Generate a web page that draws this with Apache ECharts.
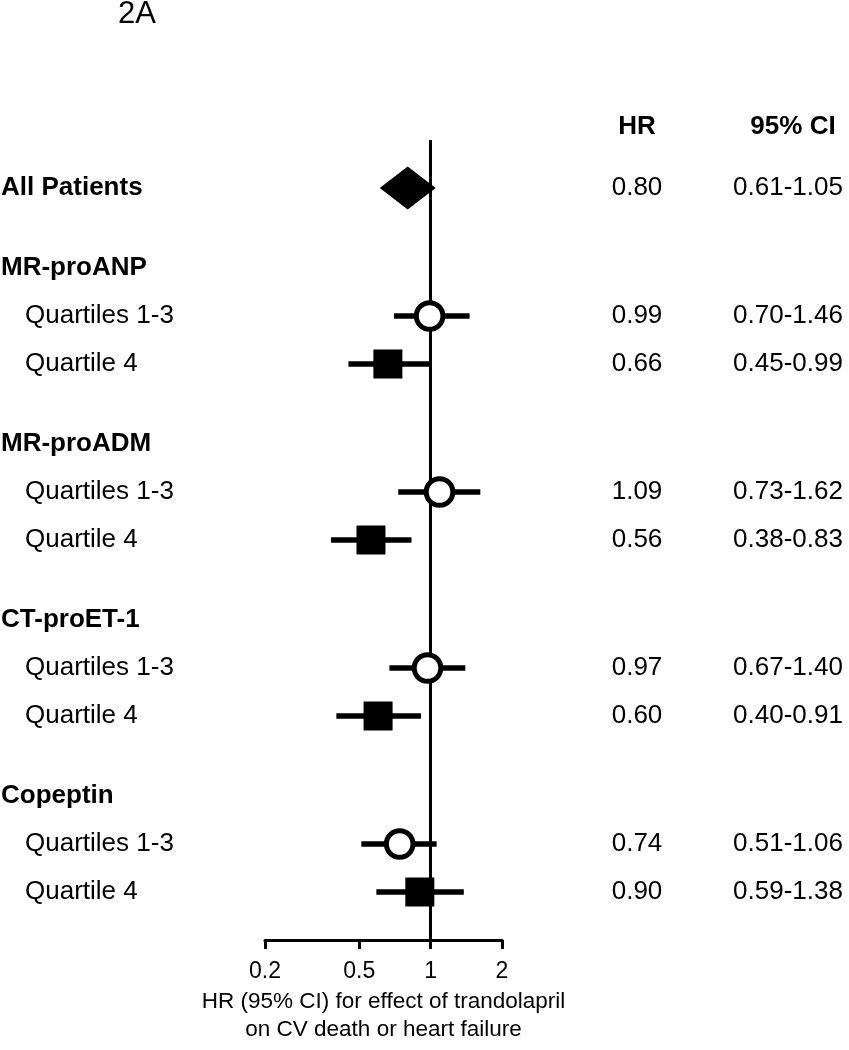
<!DOCTYPE html>
<html><head><meta charset="utf-8">
<script src="https://cdn.jsdelivr.net/npm/echarts@6/dist/echarts.min.js"></script>
<style>html,body{margin:0;padding:0;background:#fff}#c{width:849px;height:1050px}</style>
</head><body><div id="c"></div>
<script>
// ---------- data ----------
const rowLabels = ['All Patients', 'MR-proANP', 'Quartiles 1-3', 'Quartile 4',
  'MR-proADM', 'Quartiles 1-3', 'Quartile 4',
  'CT-proET-1', 'Quartiles 1-3', 'Quartile 4',
  'Copeptin', 'Quartiles 1-3', 'Quartile 4'];
const rowKinds = ['overall', 'group', 'q13', 'q4', 'group', 'q13', 'q4',
  'group', 'q13', 'q4', 'group', 'q13', 'q4'];
const hrValues = [0.80, null, 0.99, 0.66, null, 1.09, 0.56, null, 0.97, 0.60, null, 0.74, 0.90];
const ciLow    = [0.61, null, 0.70, 0.45, null, 0.73, 0.38, null, 0.67, 0.40, null, 0.51, 0.59];
const ciHigh   = [1.05, null, 1.46, 0.99, null, 1.62, 0.83, null, 1.40, 0.91, null, 1.06, 1.38];
const xTicks = [0.2, 0.5, 1, 2];
const axisTitle = 'HR (95% CI) for effect of trandolapril\non CV death or heart failure';
const panelTitle = '2A';
const colHeaders = ['HR', '95% CI'];

// ---------- layout ----------
const FONT = '"Liberation Sans", Arial, Helvetica, sans-serif';
const FIRST = 48, GROUP_GAP = 80, ROW_GAP = 48;
const rowY = [];
rowKinds.forEach((k, i) => {
  if (i === 0) rowY.push(FIRST);
  else rowY.push(rowY[i - 1] + (k === 'group' ? GROUP_GAP : ROW_GAP));
});

const markData = [];
const textData = [];
rowLabels.forEach((lab, i) => {
  textData.push([1, rowY[i], i]);
  if (hrValues[i] != null) markData.push([hrValues[i], rowY[i], ciLow[i], ciHigh[i], i]);
});

const chart = echarts.init(document.getElementById('c'), null, {renderer: 'canvas'});

const option = {
  animation: false,
  backgroundColor: '#fff',
  grid: {left: 265, right: 347, top: 140, bottom: 110, containLabel: false},
  xAxis: {
    type: 'log', logBase: 10, min: 0.2, max: 2, position: 'bottom',
    name: axisTitle, nameLocation: 'middle', nameGap: 46,
    nameTextStyle: {fontSize: 22.5, color: '#000', fontFamily: FONT, lineHeight: 28},
    axisLine: {show: true, onZero: false, lineStyle: {color: '#000', width: 3}},
    axisTick: {show: true, customValues: xTicks, length: 9, lineStyle: {color: '#000', width: 3}},
    axisLabel: {show: true, customValues: xTicks, fontSize: 23, color: '#000', fontFamily: FONT, margin: 20,
      formatter: v => String(+(+v).toPrecision(4))},
    splitLine: {show: false}, minorTick: {show: false}, minorSplitLine: {show: false}
  },
  yAxis: {type: 'value', min: 0, max: 800, inverse: true, show: false, splitLine: {show: false}},
  graphic: [
    {type: 'text', x: 137, y: 14, style: {text: panelTitle, font: '31px ' + FONT, fill: '#000', align: 'center', verticalAlign: 'middle'}},
    {type: 'text', x: 637, y: 127, style: {text: colHeaders[0], font: 'bold 26px ' + FONT, fill: '#000', align: 'center', verticalAlign: 'middle'}},
    {type: 'text', x: 793, y: 127, style: {text: colHeaders[1], font: 'bold 26px ' + FONT, fill: '#000', align: 'center', verticalAlign: 'middle'}}
  ],
  series: [
    {
      type: 'line', data: [], z: 1, silent: true,
      markLine: {
        silent: true, symbol: ['none', 'none'], label: {show: false},
        lineStyle: {color: '#000', width: 3, type: 'solid'},
        data: [{xAxis: 1}]
      }
    },
    {
      type: 'custom', z: 5, silent: true, clip: false,
      encode: {x: 0, y: 1},
      data: markData,
      renderItem: (params, api) => {
        const hr = api.value(0), y = api.value(1), lo = api.value(2), hi = api.value(3), i = api.value(4);
        const kind = rowKinds[i];
        const p = api.coord([hr, y]);
        const pl = api.coord([lo, y]);
        const ph = api.coord([hi, y]);
        if (kind === 'overall') {
          return {type: 'polygon', shape: {points: [[pl[0], p[1]], [p[0], p[1] - 21.5], [ph[0], p[1]], [p[0], p[1] + 21.5]]},
            style: {fill: '#000'}};
        }
        const children = [{type: 'line', shape: {x1: pl[0], y1: p[1], x2: ph[0], y2: p[1]}, style: {stroke: '#000', lineWidth: 5.5}}];
        if (kind === 'q13') {
          children.push({type: 'circle', shape: {cx: p[0], cy: p[1], r: 13.3}, style: {fill: '#fff', stroke: '#000', lineWidth: 5}});
        } else {
          children.push({type: 'rect', shape: {x: p[0] - 14.5, y: p[1] - 14.5, width: 29, height: 29}, style: {fill: '#000'}});
        }
        return {type: 'group', children};
      }
    },
    {
      type: 'custom', z: 6, silent: true, clip: false,
      encode: {x: 0, y: 1},
      data: textData,
      renderItem: (params, api) => {
        const y = api.coord([1, api.value(1)])[1];
        const i = api.value(2);
        const kind = rowKinds[i];
        const bold = (kind === 'overall' || kind === 'group');
        const children = [{type: 'text', x: bold ? 1 : 25, y: y,
          style: {text: rowLabels[i], font: (bold ? 'bold ' : '') + '26px ' + FONT, fill: '#000', align: 'left', verticalAlign: 'middle'}}];
        if (hrValues[i] != null) {
          children.push({type: 'text', x: 637, y: y,
            style: {text: hrValues[i].toFixed(2), font: '26px ' + FONT, fill: '#000', align: 'center', verticalAlign: 'middle'}});
          children.push({type: 'text', x: 788, y: y,
            style: {text: ciLow[i].toFixed(2) + '-' + ciHigh[i].toFixed(2), font: '26px ' + FONT, fill: '#000', align: 'center', verticalAlign: 'middle'}});
        }
        return {type: 'group', children};
      }
    }
  ]
};
chart.setOption(option);
</script></body></html>
